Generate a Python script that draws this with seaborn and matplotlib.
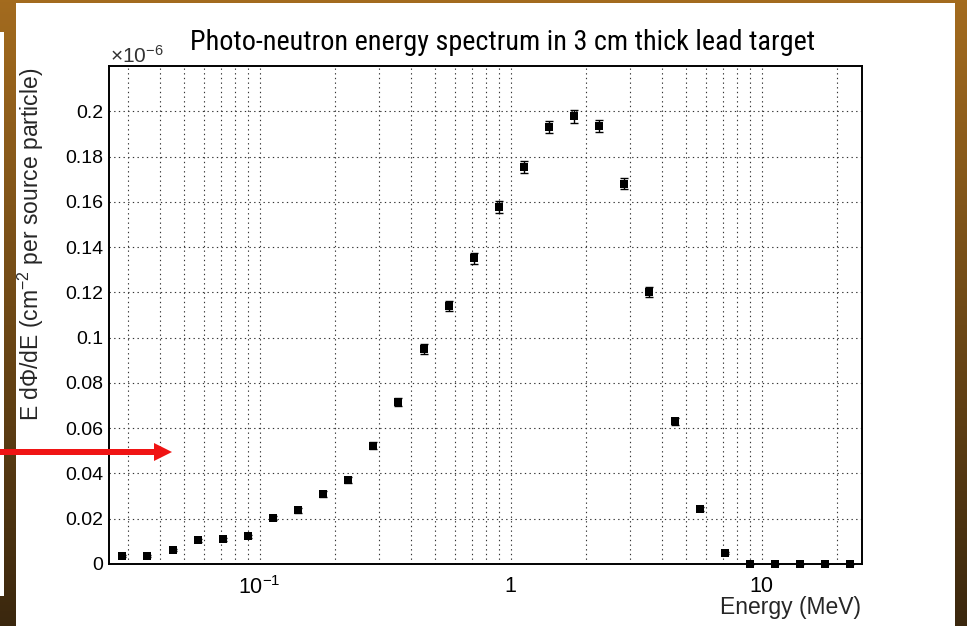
import numpy as np
import matplotlib
matplotlib.use("Agg")
import matplotlib.pyplot as plt
import seaborn as sns
from matplotlib import font_manager
from matplotlib.ticker import FixedLocator, LogLocator, MultipleLocator, NullFormatter, FixedFormatter
from matplotlib.patches import Rectangle, Polygon

# Photo-neutron spectrum, bin centres in MeV, flux in units of 1e-6
energy_mev = [0.0284, 0.0357, 0.0450, 0.0566, 0.0713, 0.0897, 0.113, 0.142, 0.179, 0.225,
              0.284, 0.357, 0.450, 0.566, 0.713, 0.897, 1.13, 1.42, 1.79, 2.25,
              2.84, 3.57, 4.50, 5.66, 7.13, 8.97, 11.3, 14.2, 17.9, 22.5]
flux = [0.0037, 0.0035, 0.0063, 0.0105, 0.0110, 0.0122, 0.0204, 0.0238, 0.0309, 0.0371,
        0.0523, 0.0714, 0.0949, 0.1139, 0.1351, 0.1576, 0.1753, 0.1929, 0.1977, 0.1935,
        0.1680, 0.1202, 0.0631, 0.0245, 0.0047, 0.0, 0.0, 0.0, 0.0, 0.0]
flux_err = [0.0004, 0.0004, 0.0005, 0.0007, 0.0007, 0.0008, 0.0010, 0.0011, 0.0012, 0.0013,
            0.0016, 0.0018, 0.0021, 0.0023, 0.0025, 0.0026, 0.0026, 0.0027, 0.0027, 0.0027,
            0.0025, 0.0021, 0.0015, 0.0009, 0.0004, 0.0001, 0.0, 0.0, 0.0, 0.0]

x_tick_values = [0.1, 1, 10]
x_tick_labels = [r"$\mathregular{10^{-1}}$", "1", "10"]
y_tick_values = [0, 0.02, 0.04, 0.06, 0.08, 0.1, 0.12, 0.14, 0.16, 0.18, 0.2]
y_tick_labels = ["0", "0.02", "0.04", "0.06", "0.08", "0.1", "0.12", "0.14", "0.16", "0.18", "0.2"]

title = "Photo-neutron energy spectrum in 3 cm thick lead target"
x_label = "Energy (MeV)"
y_label = "E dΦ/dE (cm$^{\\mathregular{-2}}$ per source particle)"
scale_label = "×10$^{\\mathregular{-6}}$"

sns.set_theme(style="white")
plt.rcParams["font.family"] = ["Liberation Sans", "DejaVu Sans"]
plt.rcParams["mathtext.fontset"] = "custom"
plt.rcParams["mathtext.rm"] = "Liberation Sans"
plt.rcParams["mathtext.it"] = "Liberation Sans:italic"
plt.rcParams["mathtext.bf"] = "Liberation Sans:bold"

# pick a narrow face for the title if one is installed
installed = {f.name for f in font_manager.fontManager.ttflist}
narrow_faces = [n for n in ["Roboto Condensed", "Liberation Sans Narrow", "Open Sans Condensed",
                            "DejaVu Sans Condensed", "Noto Sans Condensed"] if n in installed]
title_family = narrow_faces[0] if narrow_faces else "DejaVu Sans"
title_stretch = "normal" if narrow_faces else "condensed"

W, H = 967, 626
fig = plt.figure(figsize=(W / 100, H / 100), dpi=100)


def fx(px):
    return px / W


def fy(py):
    return 1 - py / H


# slide background: vertical brown gradient
bg = fig.add_axes([0, 0, 1, 1], zorder=-10)
g = np.linspace(0, 1, 256)[:, None, None]
top = np.array([0.64, 0.42, 0.12])
bottom = np.array([0.23, 0.155, 0.055])
bg.imshow(top * (1 - g) + bottom * g, aspect="auto", extent=[0, 1, 0, 1])
bg.axis("off")

# white canvas
fig.patches.append(Rectangle((fx(16), 0), fx(955) - fx(16), fy(3), transform=fig.transFigure,
                             facecolor="white", edgecolor="none", zorder=-5))
fig.patches.append(Rectangle((0, fy(596)), fx(4), fy(32) - fy(596), transform=fig.transFigure,
                             facecolor="white", edgecolor="none", zorder=-5))

ax = fig.add_axes([fx(109), fy(564), fx(862) - fx(109), (564 - 66) / H])
ax.set_facecolor("white")

ax.errorbar(energy_mev, flux, yerr=flux_err, fmt="none", ecolor="black", elinewidth=1.0,
            capsize=2.6, capthick=1.0, clip_on=False, zorder=3)
sns.scatterplot(x=energy_mev, y=flux, marker="s", s=38, color="black", edgecolor="black",
                linewidth=0, ax=ax, clip_on=False, zorder=4)

ax.set_xscale("log")
ax.set_xlim(10 ** -1.6, 10 ** 1.4)
ax.set_ylim(0, 0.22)

ax.xaxis.set_major_locator(FixedLocator(x_tick_values))
ax.xaxis.set_major_formatter(FixedFormatter(x_tick_labels))
ax.xaxis.set_minor_locator(LogLocator(base=10, subs=np.arange(2, 10)))
ax.xaxis.set_minor_formatter(NullFormatter())
ax.yaxis.set_major_locator(FixedLocator(y_tick_values))
ax.yaxis.set_major_formatter(FixedFormatter(y_tick_labels))
ax.yaxis.set_minor_locator(MultipleLocator(0.005))

ax.tick_params(axis="both", which="both", direction="in", top=False, right=False,
               colors="black", width=1.1)
ax.tick_params(axis="y", which="major", length=16, labelsize=14, pad=4)
ax.tick_params(axis="y", which="minor", length=8)
ax.tick_params(axis="x", which="major", length=10.8, labelsize=15.5, pad=9)
ax.tick_params(axis="x", which="minor", length=5.4)

ax.set_axisbelow(True)
dot = (0, (1.2, 3.0))
ax.grid(True, which="major", axis="y", linestyle=dot, color="#333333", linewidth=0.8)
ax.grid(True, which="both", axis="x", linestyle=dot, color="#333333", linewidth=0.8)
for s in ax.spines.values():
    s.set_color("black")
    s.set_linewidth(1.4)
ax.set_xlabel("")
ax.set_ylabel("")

title_text = fig.text(fx(503), fy(50), title, ha="center", va="baseline", fontsize=21,
                      family=[title_family, "DejaVu Sans"], fontstretch=title_stretch,
                      color="black")
# fit the title to its span across the slide
fig.canvas.draw()
bb = title_text.get_window_extent()
title_text.set_fontsize(21 * min(1.0, 623 / bb.width))

fig.text(fx(110), fy(63), scale_label, ha="left", va="baseline", fontsize=15, color="#333333")
fig.text(fx(31), fy(68), y_label, rotation=90, ha="center", va="top", fontsize=16.5)
fig.text(fx(861), fy(614), x_label, ha="right", va="baseline", fontsize=16.5)

# red pointer arrow, in pixel units
arrow_px = [(0, 449), (154, 449), (154, 443), (172, 452), (154, 461), (154, 455), (0, 455)]
arrow = Polygon([(x / 100, (H - y) / 100) for x, y in arrow_px], closed=True,
                transform=fig.dpi_scale_trans, facecolor="#F01414", edgecolor="none", zorder=5)
fig.patches.append(arrow)

fig.savefig("out.png", dpi=100)
